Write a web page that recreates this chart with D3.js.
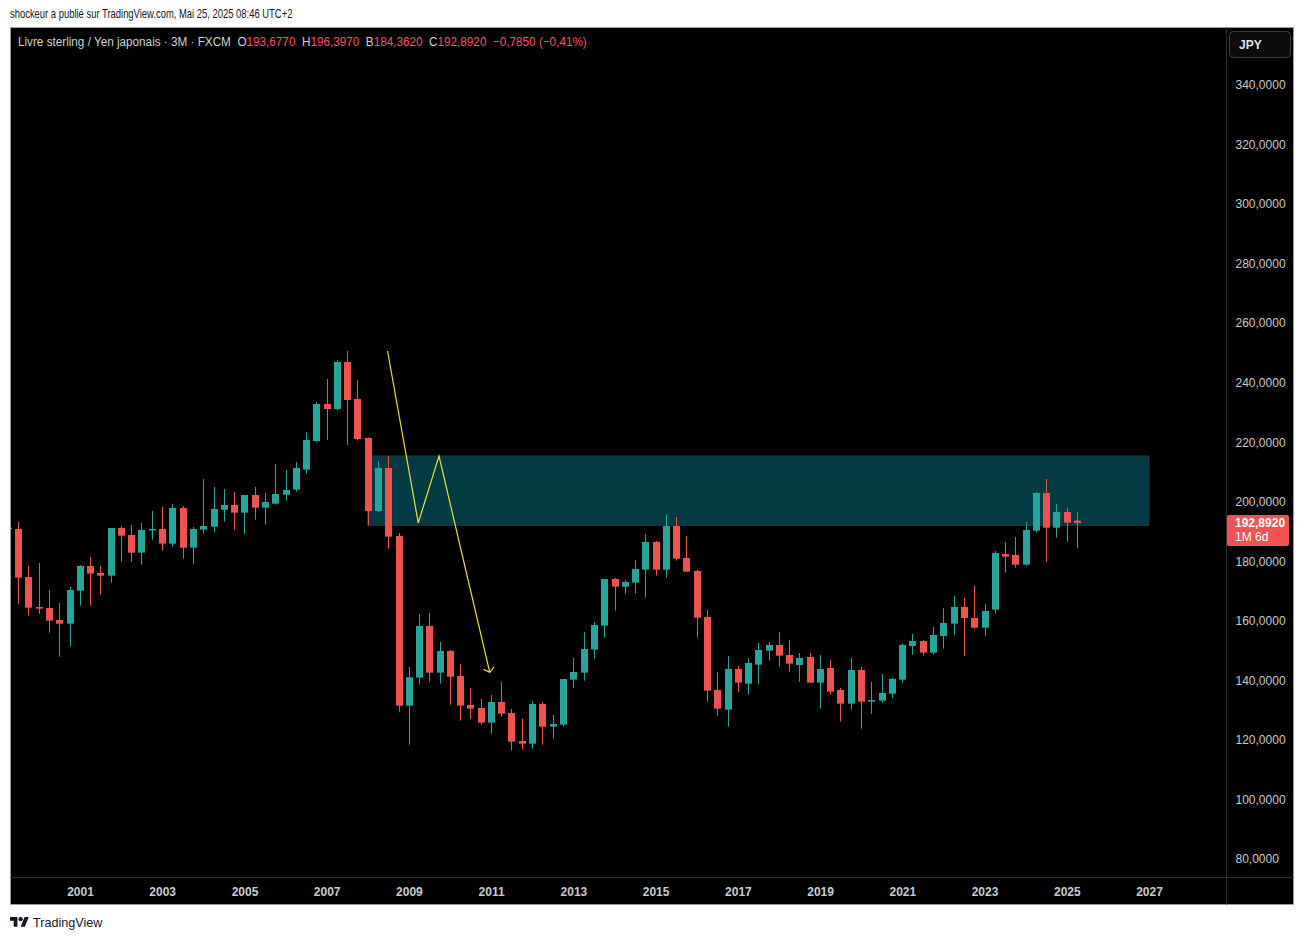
<!DOCTYPE html>
<html>
<head>
<meta charset="utf-8">
<script src="https://cdn.jsdelivr.net/npm/d3@7"></script>
<style>
  body { margin: 0; background: #fff; }
  svg { display: block; }
</style>
</head>
<body>
<svg id="chart"></svg>
<script>
// quarterly GBP/JPY candles, 1999 Q2 -> 2025 Q2
const opens = [191.3, 190.85, 174.73, 164.65, 164.32, 160.28, 159.05, 170.14, 178.42, 176.07,
  175.18, 191.19, 188.84, 182.9, 190.52, 190.85, 185.93, 197.91, 184.58, 190.63,
  191.64, 197.35, 198.91, 196.34, 202.27, 198.02, 199.36, 202.39, 204.07, 210.78,
  220.41, 232.84, 231.16, 246.95, 234.52, 221.42, 196.9, 211.34, 188.5, 131.51,
  140.92, 158.27, 142.6, 149.87, 141.48, 131.74, 130.73, 125.8, 132.74, 129.05,
  119.64, 118.74, 132.07, 124.46, 125.13, 140.25, 142.6, 150.33, 158.39, 174.06,
  171.49, 172.83, 177.2, 186.49, 177.2, 191.87, 181.12, 176.75, 161.3, 136.78,
  130.17, 143.83, 138.9, 145.29, 149.99, 151.89, 148.53, 145.17, 147.86, 139.24,
  144.16, 136.77, 132.18, 143.49, 132.85, 133.19, 135.54, 140.24, 151.55, 153.23,
  149.31, 154.91, 159.05, 164.65, 160.96, 157.71, 163.76, 182.45, 182.12, 178.87,
  190.29, 202.94, 191.3, 196.56, 193.677];
const highs = [192.0, 193.2, 178.42, 179.43, 170.36, 166.0, 171.37, 178.76, 181.45, 178.42,
  191.19, 191.86, 192.2, 192.87, 196.9, 198.24, 199.25, 198.58, 191.52, 207.65,
  204.96, 204.29, 203.28, 202.27, 204.96, 202.95, 212.69, 210.67, 213.36, 223.32,
  233.51, 241.24, 247.62, 250.65, 240.9, 221.6, 213.7, 215.37, 189.51, 144.5,
  162.3, 162.64, 152.9, 150.21, 145.51, 137.45, 133.75, 135.1, 139.46, 130.39,
  127.15, 133.08, 132.75, 128.38, 140.47, 147.53, 156.26, 159.62, 174.06, 174.4,
  173.73, 180.45, 189.18, 186.83, 195.56, 194.89, 188.51, 177.09, 163.65, 142.82,
  148.2, 144.84, 147.53, 152.56, 152.9, 156.25, 153.57, 149.2, 149.2, 148.53,
  146.85, 137.44, 147.52, 144.5, 139.46, 142.15, 140.8, 152.22, 155.58, 153.57,
  157.93, 164.32, 168.35, 167.68, 171.71, 165.66, 183.46, 186.49, 188.16, 193.2,
  203.28, 207.65, 199.25, 197.91, 196.397];
const lows = [190.3, 165.77, 161.74, 162.41, 156.03, 147.97, 151.33, 165.1, 165.1, 168.79,
  172.82, 179.88, 179.88, 178.87, 187.27, 183.57, 184.92, 180.89, 179.21, 189.28,
  189.96, 193.32, 190.63, 189.28, 193.99, 192.31, 199.03, 200.37, 203.39, 209.44,
  220.08, 220.75, 230.83, 219.07, 220.6, 192.2, 196.56, 184.25, 129.49, 118.41,
  138.56, 139.57, 138.9, 131.85, 126.47, 127.15, 125.13, 122.11, 127.81, 116.4,
  116.73, 117.07, 118.41, 120.43, 124.46, 137.56, 139.91, 147.3, 154.36, 163.43,
  169.14, 169.14, 167.79, 175.18, 174.51, 180.22, 176.53, 154.36, 132.86, 128.16,
  124.46, 136.22, 135.21, 138.9, 146.63, 144.61, 142.93, 139.57, 139.24, 130.5,
  135.2, 126.13, 130.17, 123.78, 128.82, 132.52, 134.2, 139.24, 148.53, 148.3,
  148.64, 150.66, 155.25, 148.19, 157.37, 155.02, 162.41, 176.18, 177.86, 178.54,
  189.62, 179.88, 187.94, 186.6, 184.362];
const closes = [190.9, 174.51, 164.43, 164.09, 160.06, 159.05, 170.36, 178.42, 175.85, 175.18,
  191.19, 188.61, 182.9, 190.52, 190.85, 185.93, 197.91, 184.58, 190.85, 191.86,
  197.57, 198.91, 196.34, 202.27, 198.02, 199.92, 202.61, 203.95, 211.34, 220.75,
  232.84, 231.16, 246.95, 234.19, 221.09, 196.9, 211.34, 188.28, 131.51, 141.03,
  158.27, 142.6, 149.87, 141.25, 131.51, 130.5, 125.8, 132.74, 128.82, 119.42,
  118.74, 132.07, 124.46, 125.36, 140.47, 142.82, 150.55, 158.61, 174.06, 171.49,
  173.05, 177.42, 186.49, 177.2, 191.87, 180.89, 176.53, 161.07, 136.55, 130.51,
  143.83, 139.24, 145.85, 150.21, 151.89, 148.3, 145.62, 147.52, 139.24, 143.83,
  136.21, 132.18, 143.49, 132.85, 133.41, 135.76, 140.47, 151.89, 153.23, 149.31,
  155.25, 159.28, 164.65, 160.96, 157.71, 163.31, 182.79, 181.56, 178.87, 190.52,
  202.94, 191.3, 196.56, 192.98, 192.892];

const yearTicks = [2001, 2003, 2005, 2007, 2009, 2011, 2013, 2015, 2017, 2019, 2021, 2023, 2025, 2027];
const priceTicks = [80, 100, 120, 140, 160, 180, 200, 220, 240, 260, 280, 300, 320, 340];

// resistance box and the yellow path drawn on the chart
const zoneDates = [new Date(2008, 0, 1), new Date(2027, 0, 1)];
const zoneValues = [192.09, 215.37];
const pathDates = [new Date(2008, 5, 25), new Date(2009, 2, 25), new Date(2009, 8, 25), new Date(2010, 11, 20)];
const pathValues = [250.65, 192.9, 215.37, 142.7];

const W = 1304, H = 940;
const box = { left: 10.5, top: 27.5, right: 1293.5, bottom: 904.5 };
const plotRight = 1226.5, plotBottom = 877.5;
const up = "#26a69a", down = "#ef5350";

const quarters = d3.timeMonth.range(new Date(1999, 3, 1), new Date(2025, 4, 1), 3);
const candles = quarters.map((d, i) => ({
  date: d, o: opens[i], h: highs[i], l: lows[i], c: closes[i]
}));

const fr = d3.formatLocale({ decimal: ",", thousands: " ", grouping: [3], currency: ["", ""] });
const fmt = fr.format(".4f");

// squeeze a text horizontally so it spans the same width as in the snapshot
function fitWidth(sel, x0, width) {
  const w = sel.node().getBBox().width;
  if (w > 0) sel.attr("transform", `translate(${x0},0) scale(${width / w},1) translate(${-x0},0)`);
}

const svg = d3.select("#chart").attr("width", W).attr("height", H)
  .style("font-family", "'Liberation Sans', Arial, sans-serif");

svg.append("rect").attr("width", W).attr("height", H).attr("fill", "#fff");

const byline = svg.append("text").attr("x", 10).attr("y", 18)
  .attr("font-size", 12).attr("fill", "#131722")
  .text("shockeur a publié sur TradingView.com, Mai 25, 2025 08:46 UTC+2");
fitWidth(byline, 10, 283);

// chart frame
svg.append("rect")
  .attr("x", box.left).attr("y", box.top)
  .attr("width", box.right - box.left).attr("height", box.bottom - box.top)
  .attr("fill", "#000").attr("stroke", "#9a9da5");

const x = d3.scaleTime()
  .domain([new Date(2001, 0, 1), new Date(2027, 0, 1)])
  .range([80, 1149]);
const y = d3.scaleLinear().domain([80, 340]).range([859, 85]);

svg.append("defs").append("clipPath").attr("id", "plotclip")
  .append("rect")
  .attr("x", box.left + 0.5).attr("y", box.top + 0.5)
  .attr("width", plotRight - box.left - 0.5).attr("height", plotBottom - box.top - 0.5);

const plot = svg.append("g").attr("clip-path", "url(#plotclip)");

// zone
plot.append("rect")
  .attr("x", x(zoneDates[0])).attr("y", y(zoneValues[1]))
  .attr("width", x(zoneDates[1]) - x(zoneDates[0]))
  .attr("height", y(zoneValues[0]) - y(zoneValues[1]))
  .attr("fill", "#013a42").attr("stroke", "#26393c").attr("stroke-width", 1);

// candles
const bw = 7;
const g = plot.selectAll(".candle").data(candles).join("g").attr("class", "candle");
g.append("line")
  .attr("x1", d => Math.round(x(d.date)) + 0.5).attr("x2", d => Math.round(x(d.date)) + 0.5)
  .attr("y1", d => y(d.h)).attr("y2", d => y(d.l))
  .attr("stroke", d => d.c >= d.o ? up : down).attr("stroke-width", 1);
g.append("rect")
  .attr("x", d => Math.round(x(d.date)) + 0.5 - bw / 2)
  .attr("y", d => y(Math.max(d.o, d.c)))
  .attr("width", bw)
  .attr("height", d => Math.max(1.5, Math.abs(y(d.o) - y(d.c))))
  .attr("fill", d => d.c >= d.o ? up : down);

// yellow path with arrow head
const pts = pathDates.map((d, i) => [x(d), y(pathValues[i])]);
plot.append("path")
  .attr("d", d3.line()(pts))
  .attr("fill", "none").attr("stroke", "#ecdf3f").attr("stroke-width", 1.2);
const tip = pts[pts.length - 1], prev = pts[pts.length - 2];
const ang = Math.atan2(prev[1] - tip[1], prev[0] - tip[0]);
const wing = a => [tip[0] + 7 * Math.cos(ang + a), tip[1] + 7 * Math.sin(ang + a)];
plot.append("path")
  .attr("d", d3.line()([wing(0.9), tip, wing(-0.9)]))
  .attr("fill", "none").attr("stroke", "#ecdf3f").attr("stroke-width", 1.2);

// separators
svg.append("line").attr("x1", plotRight).attr("x2", plotRight)
  .attr("y1", box.top).attr("y2", box.bottom).attr("stroke", "#2e2e2e");
svg.append("line").attr("x1", box.left).attr("x2", box.right)
  .attr("y1", plotBottom).attr("y2", plotBottom).attr("stroke", "#2e2e2e");

// axes
const xAxis = svg.append("g")
  .attr("transform", `translate(0, ${plotBottom})`)
  .call(d3.axisBottom(x).tickValues(yearTicks.map(v => new Date(v, 0, 1)))
    .tickFormat(d3.timeFormat("%Y")).tickSize(0).tickPadding(8));
xAxis.select(".domain").remove();
xAxis.selectAll("text").attr("fill", "#c9cbd1").attr("font-size", 12)
  .attr("font-weight", "bold").attr("dy", "0.85em")
  .attr("font-family", "'Liberation Sans', Arial, sans-serif");

const yAxis = svg.append("g")
  .attr("transform", `translate(${plotRight}, 0)`)
  .call(d3.axisRight(y).tickValues(priceTicks).tickFormat(fmt).tickSize(0).tickPadding(9));
yAxis.select(".domain").remove();
yAxis.selectAll("text").attr("fill", "#c9cbd1").attr("font-size", 12)
  .attr("font-family", "'Liberation Sans', Arial, sans-serif");

// JPY button
svg.append("rect").attr("x", 1229.5).attr("y", 31.5).attr("width", 61).attr("height", 26)
  .attr("rx", 4).attr("fill", "#0c0c0c").attr("stroke", "#3a3d45");
svg.append("text").attr("x", 1239).attr("y", 49).attr("fill", "#e0e3eb")
  .attr("font-size", 12).attr("font-weight", "bold").text("JPY");

// last price label
const last = candles[candles.length - 1];
const ly = y(last.c);
svg.append("rect").attr("x", 1227).attr("y", ly - 8).attr("width", 62).attr("height", 31)
  .attr("rx", 2).attr("fill", "#f05350");
svg.append("text").attr("x", 1235).attr("y", ly + 4).attr("fill", "#fff")
  .attr("font-size", 12).attr("font-weight", "bold").text(fmt(last.c));
svg.append("text").attr("x", 1235).attr("y", ly + 18).attr("fill", "#fff")
  .attr("font-size", 12).text("1M 6d");

// legend line
const legend = svg.append("text").attr("x", 18).attr("y", 46)
  .attr("font-size", 12.5).attr("fill", "#d1d4dc");
legend.append("tspan").text("Livre sterling / Yen japonais · 3M · FXCM");
const red = "#f7525f";
[["O", last.o], ["H", last.h], ["B", last.l], ["C", last.c]].forEach(([k, v]) => {
  legend.append("tspan").attr("dx", 7).text(k);
  legend.append("tspan").attr("fill", red).text(fmt(v));
});
legend.append("tspan").attr("dx", 7).attr("fill", red).text("−0,7850 (−0,41%)");
fitWidth(legend, 18, 569);

// TradingView mark
const logo = svg.append("g").attr("transform", "translate(10, 915) scale(0.53)").attr("fill", "#131722");
logo.append("path").attr("d", "M14 22H7V11H0V4h14v18zM28 22h-8l7.5-18h8L28 22z");
logo.append("circle").attr("cx", 20).attr("cy", 8).attr("r", 4);
const brand = svg.append("text").attr("x", 33).attr("y", 927).attr("font-size", 13).attr("fill", "#131722")
  .text("TradingView");
fitWidth(brand, 33, 70);
</script>
</body>
</html>
